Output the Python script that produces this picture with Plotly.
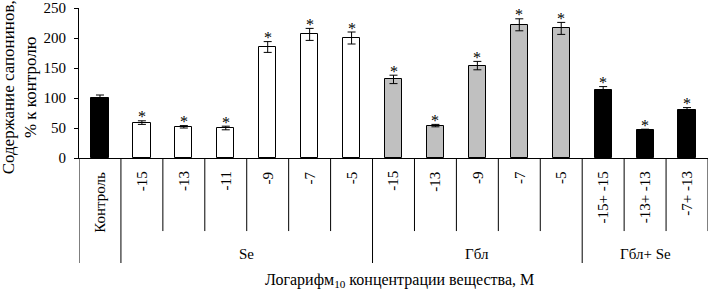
import plotly.graph_objects as go

# ---- data ----
tick_labels = ["Контроль", "-15", "-13", "-11", "-9", "-7", "-5",
               "-15", "-13", "-9", "-7", "-5",
               "-15+ -15", "-13+ -13", "-7+ -13"]
groups = ["control", "Se", "Se", "Se", "Se", "Se", "Se",
          "Gbl", "Gbl", "Gbl", "Gbl", "Gbl",
          "GblSe", "GblSe", "GblSe"]
values = [100, 59, 52, 50, 185, 206, 200, 131, 54, 154, 222, 216, 114, 46, 80]
errors = [5, 3, 2, 3, 9, 10, 10, 7, 2, 7, 10, 10, 5, 2, 4]
significant = [False] + [True] * 14
group_names = ["Se", "Гбл", "Гбл+ Se"]
group_spans = [(1, 6), (7, 11), (12, 14)]
y_ticks = [0, 50, 100, 150, 200, 250]

# ---- styles ----
FONT = "'Liberation Serif', 'Times New Roman', 'DejaVu Serif', serif"
fill_map = {"control": "#000000", "Se": "#ffffff", "Gbl": "#c0c0c0", "GblSe": "#000000"}

xs = list(range(len(values)))
fig = go.Figure()
fig.add_trace(go.Bar(
    x=xs, y=values, width=0.41,
    marker=dict(color=[fill_map[g] for g in groups],
                line=dict(color="#000000", width=1)),
    error_y=dict(type="data", array=errors, visible=True,
                 color="#000000", thickness=1, width=4),
    showlegend=False,
))

annotations = []
# significance asterisks
for x, v, e, s in zip(xs, values, errors, significant):
    if s:
        annotations.append(dict(x=x, y=v + e, xref="x", yref="y", text="*",
                                showarrow=False, yanchor="middle", yshift=4,
                                font=dict(family=FONT, size=16, color="#000")))
# rotated category labels
for x, t in zip(xs, tick_labels):
    annotations.append(dict(x=x, y=-0.075, xref="x", yref="paper", text=t,
                            showarrow=False, textangle=-90, yanchor="top",
                            xanchor="center",
                            font=dict(family=FONT, size=15, color="#000")))
# group labels
for name, (a, b) in zip(group_names, group_spans):
    annotations.append(dict(x=(a + b) / 2, y=-0.64, xref="x", yref="paper",
                            text=name, showarrow=False, yanchor="middle",
                            font=dict(family=FONT, size=15, color="#000")))
# axis titles
annotations.append(dict(x=0.509, y=-0.815, xref="paper", yref="paper",
                        text="Логарифм<sub>10</sub> концентрации вещества, М",
                        showarrow=False, yanchor="middle",
                        font=dict(family=FONT, size=16, color="#000")))
annotations.append(dict(x=-0.094, y=0.47, xref="paper", yref="paper",
                        text="Содержание сапонинов,<br>% к контролю",
                        showarrow=False, textangle=-90, xanchor="center",
                        yanchor="middle",
                        font=dict(family=FONT, size=17, color="#000")))

# table separator lines
shapes = []
group_bounds = {-0.5, 0.5, 6.5, 11.5}
for i in range(-1, len(values)):
    xb = i + 0.5
    y1 = -0.70 if xb in group_bounds else -0.487
    shapes.append(dict(type="line", xref="x", yref="paper", x0=xb, x1=xb,
                       y0=0, y1=y1, line=dict(color="#000000", width=1)))

fig.update_layout(
    width=708, height=290,
    margin=dict(l=79, r=0, t=8, b=132),
    plot_bgcolor="white", paper_bgcolor="white",
    font=dict(family=FONT, size=15, color="#000"),
    bargap=0,
    annotations=annotations,
    shapes=shapes,
    xaxis=dict(range=[-0.5, 14.5], showline=True, linecolor="#000",
               linewidth=1, showticklabels=False, ticks="", showgrid=False,
               zeroline=False),
    yaxis=dict(range=[0, 250], tickvals=y_ticks, showline=True,
               linecolor="#000", linewidth=1, ticks="outside", ticklen=4,
               tickcolor="#000", showgrid=False, zeroline=False,
               ticklabelstandoff=5,
               tickfont=dict(family=FONT, size=15, color="#000")),
)

fig.write_html("out.html", config={"displayModeBar": False},
               post_script="document.body.style.margin='0px';document.body.style.padding='0px';")
